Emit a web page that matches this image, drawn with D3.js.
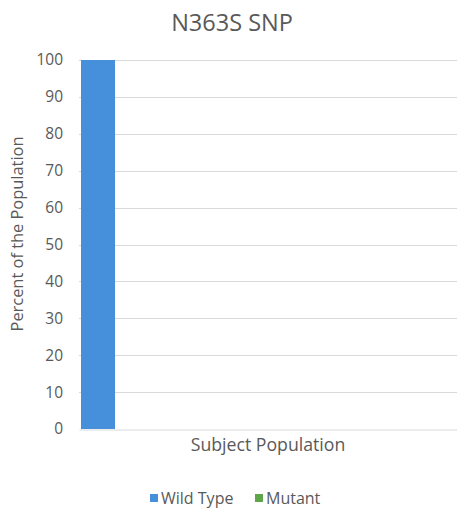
<!DOCTYPE html>
<html>
<head>
<meta charset="utf-8">
<script src="https://cdn.jsdelivr.net/npm/d3@7"></script>
<style>
  html, body { margin: 0; padding: 0; background: #fff; }
  svg { display: block; }
  text { font-family: "Open Sans", Lato, sans-serif; fill: #595959; }
</style>
</head>
<body>
<svg id="chart" width="457" height="509"></svg>
<script>
// Share of the population carrying each allele
const categories = ["Subject Population"];
const seriesNames = ["Wild Type", "Mutant"];
const wildType = [100];
const mutant = [0];
const seriesColors = ["#4690DB", "#5FA64A"];
const yTicks = [0, 10, 20, 30, 40, 50, 60, 70, 80, 90, 100];

const rows = categories.map((c, i) => ({ category: c, values: [wildType[i], mutant[i]] }));

const W = 457, H = 509;
const margin = { top: 60, right: 0, bottom: 80, left: 79 };
const FONT = "'Open Sans', Lato, sans-serif";
const svg = d3.select("#chart");

const x0 = d3.scaleBand().domain(categories)
  .range([margin.left, W - margin.right]).padding(0);
const x1 = d3.scaleBand().domain(seriesNames)
  .range([2, x0.bandwidth() - 2]).paddingInner(0.9);
const y = d3.scaleLinear().domain([0, 100]).range([H - margin.bottom, margin.top]);

// Horizontal gridlines
svg.append("g")
  .selectAll("line")
  .data(yTicks.filter(t => t > 0))
  .join("line")
  .attr("x1", margin.left).attr("x2", W - margin.right)
  .attr("y1", d => Math.round(y(d)) + 0.5).attr("y2", d => Math.round(y(d)) + 0.5)
  .attr("stroke", "#d9d9d9").attr("stroke-width", 1);

// Y axis tick labels
const yAxis = d3.axisLeft(y).tickValues(yTicks).tickSize(0).tickPadding(16);
const ya = svg.append("g").attr("transform", `translate(${margin.left},0)`).call(yAxis);
ya.select(".domain").remove();
ya.selectAll("text").style("font-size", "15.5px").attr("fill", "#595959")
  .style("font-family", FONT);

// Bars
const groups = svg.append("g").selectAll("g")
  .data(rows).join("g")
  .attr("transform", d => `translate(${x0(d.category)},0)`);
groups.selectAll("rect")
  .data(d => d.values.map((v, i) => ({ name: seriesNames[i], value: v, color: seriesColors[i] })))
  .join("rect")
  .attr("x", d => x1(d.name))
  .attr("width", x1.bandwidth())
  .attr("y", d => y(d.value))
  .attr("height", d => y(0) - y(d.value))
  .attr("fill", d => d.color);

// X axis baseline and category label
const xAxis = d3.axisBottom(x0).tickSize(0).tickPadding(9);
const xa = svg.append("g").attr("transform", `translate(0,${Math.round(y(0)) + 0.5})`).call(xAxis);
xa.select(".domain").attr("stroke", "#d9d9d9");
xa.selectAll("text").style("font-size", "17.7px").attr("fill", "#595959")
  .style("font-family", FONT);

// Title
svg.append("text")
  .attr("x", 232).attr("y", 31)
  .attr("text-anchor", "middle")
  .style("font-size", "23.5px")
  .text("N363S SNP");

// Y axis title
svg.append("text")
  .attr("transform", `translate(23,234) rotate(-90)`)
  .attr("text-anchor", "middle")
  .style("font-size", "16.4px")
  .text("Percent of the Population");

// Legend
const legendItems = [
  { name: seriesNames[0], color: seriesColors[0], x: 150 },
  { name: seriesNames[1], color: seriesColors[1], x: 255 }
];
const lg = svg.append("g").selectAll("g").data(legendItems).join("g")
  .attr("transform", d => `translate(${d.x},498)`);
lg.append("rect").attr("x", 0).attr("y", -4).attr("width", 8).attr("height", 8)
  .attr("fill", d => d.color);
lg.append("text").attr("x", 11).attr("y", 5.5)
  .style("font-size", "16px").text(d => d.name);
</script>
</body>
</html>
